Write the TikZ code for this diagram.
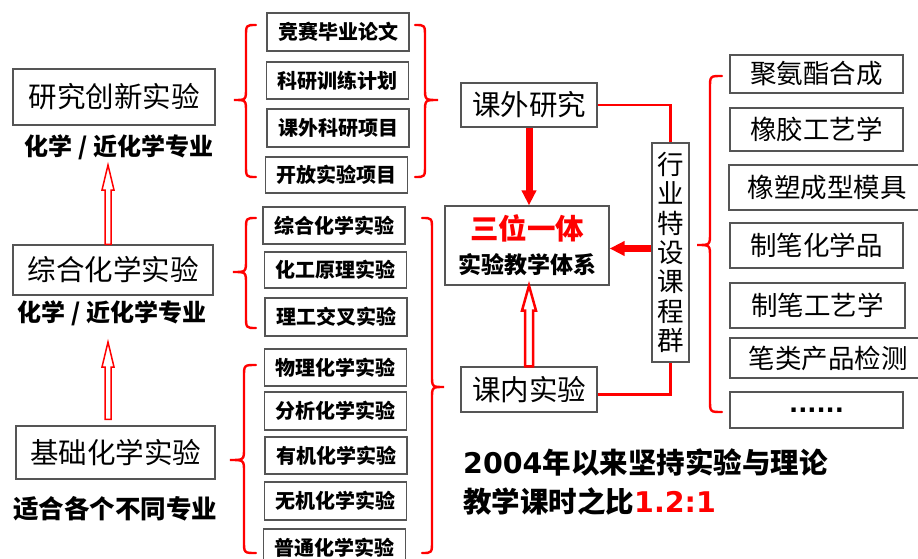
\documentclass[tikz,border=0pt]{standalone}
\usepackage{fontspec}
\setmainfont{Noto Sans CJK SC}
\newfontfamily\latfont{DejaVu Sans}
\usetikzlibrary{arrows.meta,calc}
\definecolor{bord}{RGB}{85,85,85}
\tikzset{
 box/.style={draw=bord, line width=1.2pt, fill=white, inner sep=0pt, align=center},
 bigbox/.style={box, font=\fontsize{28.5}{32}\selectfont},
 smallbox/.style={box, minimum width=142, minimum height=37, font=\fontsize{20}{22}\selectfont\bfseries},
 rbox/.style={box, font=\fontsize{26.5}{30}\selectfont},
 lab/.style={inner sep=0pt, font=\fontsize{24}{26}\selectfont\bfseries},
 redline/.style={draw=red, line width=2.6pt},
 bracestyle/.style={draw=red, line width=2.4pt, line cap=round},
 hollow/.style={draw=red, fill=white, line width=1.5pt, line join=miter},
 thickarrow/.style={draw=red, line width=7pt, -{Triangle[length=15pt 0 0, width=14pt 0 0]}},
 bottomtext/.style={anchor=west, inner sep=0pt, font=\fontsize{28.5}{32}\selectfont\bfseries},
}
% brace: xr (hook end), xm (vertical), xl (tip), ytop, ytip, ybottom
\newcommand\mybrace[6]{%
 \draw[bracestyle] (#1,#4) .. controls (#2,#4) .. (#2,#4+12) -- (#2,#5-12)
   .. controls (#2,#5) .. (#3,#5) .. controls (#2,#5) .. (#2,#5+12) -- (#2,#6-12)
   .. controls (#2,#6) .. (#1,#6);}
% hollow upward arrow: [opts] start, tip, shaft half width, head half width, head length
\newcommand\hollowup[6][]{%
 \draw[hollow,#1] let \p1=(#2), \p2=(#3) in
  (\x2-#4pt,\y1) -- (\x2-#4pt,\y2-#6pt) -- (\x2-#5pt,\y2-#6pt) -- (\x2,\y2)
  -- (\x2+#5pt,\y2-#6pt) -- (\x2+#4pt,\y2-#6pt) -- (\x2+#4pt,\y1) -- cycle;}
\begin{document}
\begin{tikzpicture}[x=1pt,y=-1pt]
\useasboundingbox (0,0) rectangle (918,559);
\clip (0,0) rectangle (918,559);
\fill[white] (0,0) rectangle (918,559);

% left column
\node[bigbox, minimum width=202, minimum height=56] (n1) at (114,97) {研究创新实验};
\node[lab] (l1) at (119,147) {化学 / 近化学专业};
\node[bigbox, minimum width=200, minimum height=50] (n2) at (113,270) {综合化学实验};
\node[lab] (l2) at (112,313) {化学 / 近化学专业};
\node[bigbox, minimum width=199, minimum height=53] (n3) at (115.5,452.5) {基础化学实验};
\node[lab, font=\fontsize{25.5}{28}\selectfont\bfseries] (l3) at (115,509) {适合各个不同专业};

\coordinate (a1) at (108,165);
\coordinate (a2) at (108,342);
\hollowup{n2.north}{a1}{3}{6}{25}
\hollowup{[yshift=6pt]n3.north}{a2}{3}{6}{25}

% small boxes
\node[smallbox, minimum height=38] (s1) at (338,32) {竞赛毕业论文};
\node[smallbox] (s2) at (337.5,80.5) {科研训练计划};
\node[smallbox, minimum height=38] (s3) at (338,128) {课外科研项目};
\node[smallbox, minimum height=36] (s4) at (336.5,175) {开放实验项目};
\node[smallbox] (s5) at (334,225.5) {综合化学实验};
\node[smallbox, minimum height=36] (s6) at (335.5,270) {化工原理实验};
\node[smallbox, minimum height=38] (s7) at (336,317) {理工交叉实验};
\node[smallbox] (s8) at (335.5,367.5) {物理化学实验};
\node[smallbox, minimum height=38] (s9) at (335.5,411) {分析化学实验};
\node[smallbox] (s10) at (336,455.5) {有机化学实验};
\node[smallbox, minimum height=38] (s11) at (335.5,501) {无机化学实验};
\node[smallbox, minimum height=38] (s12) at (334.5,548) {普通化学实验};

% braces
\mybrace{256}{246}{234}{25}{100}{177}
\mybrace{415}{425}{438}{25}{100}{177}
\mybrace{256}{246}{233}{218}{272}{328}
\mybrace{256}{244}{230}{365}{460}{553}
\mybrace{422}{432}{444}{218}{387}{553}
\mybrace{722}{710}{697}{76}{245}{412}

% middle
\node[bigbox, minimum width=136, minimum height=44] (kw) at (529,105) {课外研究};
\node[box, minimum width=164, minimum height=79, font=\fontsize{23}{34}\selectfont\bfseries] (sw) at (527,245.5)
  {{\fontsize{28.5}{34}\selectfont\color{red}三位一体}\\实验教学体系};
\node[bigbox, minimum width=136, minimum height=45] (kn) at (529,389.5) {课内实验};
\node[box, minimum width=37, minimum height=219, font=\fontsize{26.5}{29.3}\selectfont] (hy) at (670.5,252.5)
  {行\\业\\特\\设\\课\\程\\群};

\draw[redline] (kw.east) -| (hy.north);
\draw[redline] ([yshift=-5pt]kn.east) -| (hy.south);
\draw[thickarrow] (kw.south) -- (kw.south |- sw.north);
\draw[thickarrow] ([yshift=4pt]hy.west) -- ([yshift=4pt]hy.west -| sw.east);
\hollowup[line width=2.5pt]{kn.north}{kn.north |- sw.south}{4}{7}{25}

% right boxes
\node[rbox, minimum width=173, minimum height=38] (r1) at (816.5,74) {聚氨酯合成};
\node[rbox, minimum width=173, minimum height=43] (r2) at (816.5,129.5) {橡胶工艺学};
\node[rbox, minimum width=196, minimum height=45] (r3) at (827,187.5) {橡塑成型模具};
\node[rbox, minimum width=173, minimum height=45] (r4) at (816.5,245.5) {制笔化学品};
\node[rbox, minimum width=175, minimum height=45] (r5) at (817.5,305.5) {制笔工艺学};
\node[rbox, minimum width=196, minimum height=40] (r6) at (828,358) {笔类产品检测};
\node[rbox, minimum width=173, minimum height=36, font=\fontsize{24}{30}\latfont\bfseries] (r7) at (816.5,410) {......};

% bottom text
\node[bottomtext] (t1) at (463,462) {{\latfont\bfseries 2004}年以来坚持实验与理论};
\node[bottomtext] (t2) at (463,502) {教学课时之比{\latfont\bfseries\color{red}1.2:1}};
\end{tikzpicture}
\end{document}
